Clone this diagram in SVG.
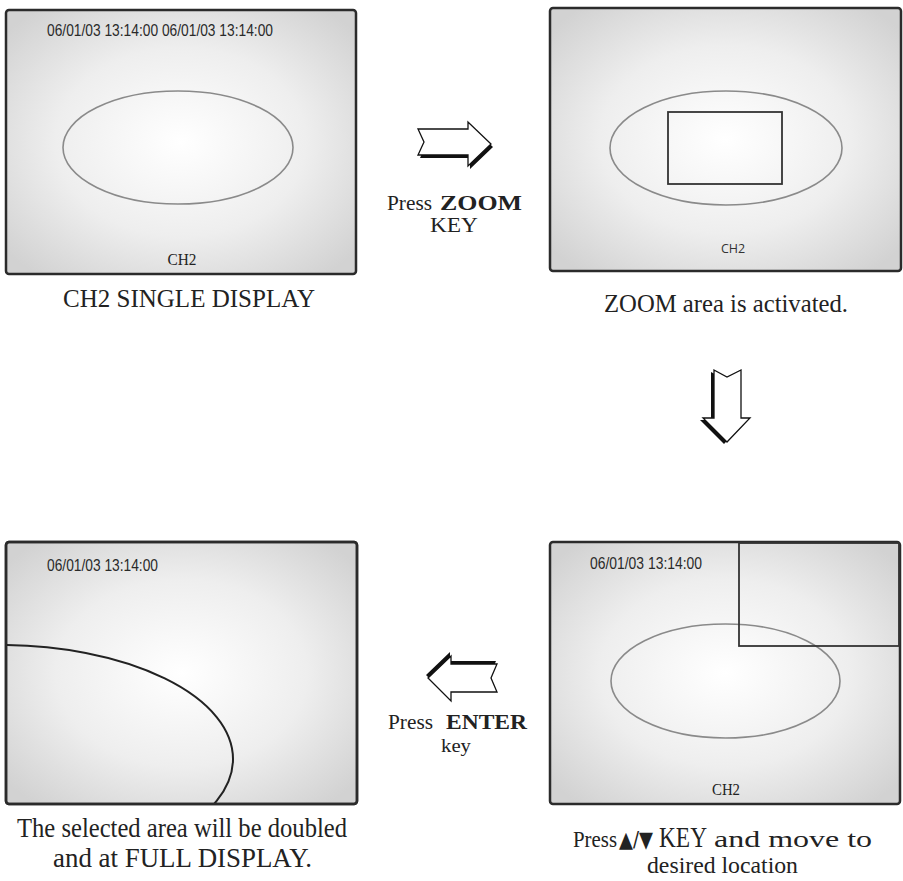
<svg xmlns="http://www.w3.org/2000/svg" width="903" height="881" viewBox="0 0 903 881">
<defs>
<radialGradient id="scr" cx="50%" cy="50%" r="65%">
<stop offset="0" stop-color="#ffffff"/>
<stop offset="0.55" stop-color="#eeeeee"/>
<stop offset="1" stop-color="#d2d2d2"/>
</radialGradient>
<clipPath id="clip3"><rect x="7" y="543" width="349" height="260"/></clipPath>
</defs>
<style>
.screen{fill:url(#scr);stroke:#2b2b2b;stroke-width:2.5}
.ell{fill:none;stroke:#8a8a8a;stroke-width:1.6}
.ts{font-family:"Liberation Sans","DejaVu Sans",sans-serif;font-size:17px;fill:#2a2a2a}
.ser{font-family:"Liberation Serif","DejaVu Serif",serif;fill:#222}
.sans{font-family:"Open Sans","Liberation Sans",sans-serif;fill:#333}
.arrow{fill:#fff;stroke:#111;stroke-width:1.3;stroke-linejoin:miter}
.shadow{fill:#111}
.inner{fill:none;stroke:#333;stroke-width:1.8}
</style>
<rect width="903" height="881" fill="#fff"/>

<g id="panel1">
<rect class="screen" x="6" y="10" width="350" height="264" rx="3"/>
<text class="ts" x="47" y="36" textLength="226" lengthAdjust="spacingAndGlyphs">06/01/03 13:14:00 06/01/03 13:14:00</text>
<ellipse class="ell" cx="178" cy="147.5" rx="115" ry="56.5"/>
<text class="ser" x="182" y="265" font-size="17" text-anchor="middle" textLength="29" lengthAdjust="spacingAndGlyphs">CH2</text>
<text class="ser" x="63" y="307" font-size="25" textLength="252" lengthAdjust="spacingAndGlyphs">CH2 SINGLE DISPLAY</text>
</g>

<g id="panel2">
<rect class="screen" x="550" y="8" width="351" height="263" rx="3"/>
<ellipse class="ell" cx="726" cy="148" rx="116" ry="57"/>
<rect class="inner" x="668" y="112" width="114" height="72"/>
<text class="sans" x="733" y="253" font-size="12.5" text-anchor="middle">CH2</text>
<text class="ser" x="604" y="312" font-size="25" textLength="244" lengthAdjust="spacingAndGlyphs">ZOOM area is activated.</text>
</g>

<g id="panel3">
<rect class="screen" x="6" y="542" width="351" height="262" rx="3"/>
<text class="ts" x="47" y="571" textLength="111" lengthAdjust="spacingAndGlyphs">06/01/03 13:14:00</text>
<ellipse cx="0" cy="759" rx="233" ry="114" fill="none" stroke="#222" stroke-width="2" clip-path="url(#clip3)"/>
<rect x="6" y="542" width="351" height="262" rx="3" fill="none" stroke="#2b2b2b" stroke-width="2.5"/>
<text class="ser" x="17" y="837" font-size="27" textLength="330" lengthAdjust="spacingAndGlyphs">The selected area will be doubled</text>
<text class="ser" x="53" y="867" font-size="27" textLength="259" lengthAdjust="spacingAndGlyphs">and at FULL DISPLAY.</text>
</g>

<g id="panel4">
<rect class="screen" x="550" y="542" width="350" height="262" rx="3"/>
<text class="ts" x="590" y="569" textLength="112" lengthAdjust="spacingAndGlyphs">06/01/03 13:14:00</text>
<ellipse class="ell" cx="725.5" cy="681" rx="114.5" ry="57"/>
<rect class="inner" x="739" y="543" width="160" height="103"/>
<text class="ser" x="726" y="795" font-size="16" text-anchor="middle" textLength="28" lengthAdjust="spacingAndGlyphs">CH2</text>
<text class="ser" y="847"><tspan x="573" font-size="23" textLength="44" lengthAdjust="spacingAndGlyphs">Press</tspan><tspan x="619" font-size="22" font-family="DejaVu Sans, sans-serif" textLength="34" lengthAdjust="spacingAndGlyphs">▲/▼</tspan><tspan x="659" font-size="29" textLength="48" lengthAdjust="spacingAndGlyphs">KEY</tspan><tspan x="714" font-size="23" textLength="158" lengthAdjust="spacingAndGlyphs">and move to</tspan></text>
<text class="ser" x="647" y="873" font-size="24" textLength="151" lengthAdjust="spacingAndGlyphs">desired location</text>
</g>

<g id="connectors">
<g id="arrow-right">
<polygon class="shadow" points="420,132 470,132 470,125 493,147 470,169 470,158 420,158 426,145"/>
<polygon class="arrow" points="418,129 468,129 468,122 491,144 468,166 468,155 418,155 424,142"/>
<text class="ser" y="210" font-size="21"><tspan x="387" textLength="45" lengthAdjust="spacingAndGlyphs">Press</tspan><tspan font-weight="bold" x="440" textLength="82" lengthAdjust="spacingAndGlyphs">ZOOM</tspan></text>
<text class="ser" x="454" y="232" font-size="21" text-anchor="middle" textLength="48" lengthAdjust="spacingAndGlyphs">KEY</text>
</g>
<g id="arrow-down">
<polygon class="shadow" points="711,372 724,379 738,372 738,420 747,420 724,444 700,420 711,420"/>
<polygon class="arrow" points="714,370 727,377 741,370 741,418 750,418 727,442 703,418 714,418"/>
</g>
<g id="arrow-left">
<polygon class="shadow" points="426,675 450,652 450,661 496,661 490,675 496,690 450,690 450,699"/>
<polygon class="arrow" points="428,678 451,656 451,664 497,664 491,678 497,692 451,692 451,701"/>
<text class="ser" y="729" font-size="20"><tspan x="388" textLength="45" lengthAdjust="spacingAndGlyphs">Press</tspan><tspan x="446" font-weight="bold" textLength="81" lengthAdjust="spacingAndGlyphs">ENTER</tspan></text>
<text class="ser" x="456" y="752" font-size="19" text-anchor="middle" textLength="30" lengthAdjust="spacingAndGlyphs">key</text>
</g>
</g>
</svg>
